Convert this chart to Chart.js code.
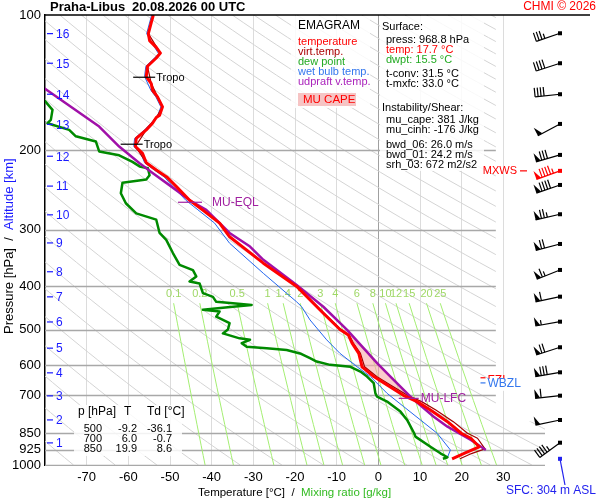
<!DOCTYPE html>
<html>
<head>
<meta charset="utf-8">
<title>Emagram Praha-Libus</title>
<script src="https://cdn.jsdelivr.net/npm/chart.js@4.4.1/dist/chart.umd.min.js"></script>
<style>
  html, body { margin: 0; padding: 0; background: #fff; }
  #wrap { width: 600px; height: 500px; }
</style>
</head>
<body>
<div id="wrap"><canvas id="emagram" width="600" height="500"></canvas></div>
<script>
// ── Axes ───────────────────────────────────────────
const pressureTicks = [100, 200, 300, 400, 500, 600, 700, 850, 925, 1000];
const tempTicks = [-70, -60, -50, -40, -30, -20, -10, 0, 10, 20, 30];
const mixRatios = [0.1, 0.2, 0.5, 1, 1.4, 2, 3, 4, 6, 8, 10, 12, 15, 20, 25];
const altKm = [1, 2, 3, 4, 5, 6, 7, 8, 9, 10, 11, 12, 13, 14, 15, 16];
const altP = [893, 794, 702, 624, 550, 481, 423, 372, 321, 278, 240, 206, 175, 150, 128, 110];

// ── Sounding profiles (p in hPa, T in °C) ──────────
const tempP = [100, 104, 110, 114, 118, 121.5, 124.6, 130, 137, 142, 147, 152, 160, 167, 169, 174, 180, 188, 196, 203,
  213, 221, 229, 241, 258, 271, 290, 311, 356, 401, 460, 500, 514, 536, 565, 605, 636, 664, 700, 723, 755, 801, 850,
  872, 911, 942, 968.8];
const tempT = [-54.0, -54.5, -55.2, -54.9, -53.3, -52.3, -53.3, -55.4, -55.7, -54.5, -54.2, -53.0, -51.8, -52.5, -53.3,
  -54.2, -55.7, -58.1, -58.3, -56.6, -55.7, -53.3, -50.8, -48.4, -45.3, -42.2, -38.1, -35.7, -27.6, -19.6, -13.2, -9.2,
  -7.2, -6.3, -4.7, -3.9, -1.1, 2.1, 6.0, 9.3, 12.5, 16.6, 19.9, 22.2, 24.2, 20.6, 17.7];

const virtP = [100, 110, 121.5, 130, 142, 160, 169, 180, 196, 213, 229, 258, 290, 311, 356, 401, 460, 500, 514, 536,
  565, 605, 636, 664, 700, 723, 755, 801, 850, 872, 921, 942, 968.8];
const virtT = [-54.0, -55.2, -52.3, -55.4, -54.5, -51.8, -53.3, -55.7, -58.3, -55.7, -50.8, -45.3, -38.1, -35.7, -27.5,
  -19.5, -13.0, -9.0, -7.0, -6.0, -4.3, -3.3, -0.4, 2.9, 7.0, 10.4, 13.8, 18.0, 21.4, 23.8, 25.6, 22.5, 19.6];

const dewP = [154.5, 162.5, 171, 174, 180, 186, 191, 201, 205, 212, 217, 219, 227, 232, 236, 249, 262, 276, 285, 305,
  316, 338, 359, 369, 381, 391, 395, 415, 423, 434, 437, 441, 445, 452, 456, 468, 484, 500, 510, 523, 527, 536, 546,
  550, 555, 565, 579, 589, 599, 605, 620, 636, 658, 693, 705, 723, 761, 794, 850, 865, 911, 942, 961, 968.8];
const dewT = [-80.2, -78.2, -78.6, -79.4, -74.2, -72.6, -67.8, -67.0, -62.2, -59.0, -57.3, -55.3, -54.9, -55.7, -61.4,
  -61.8, -60.6, -58.1, -53.3, -52.5, -50.9, -49.3, -47.7, -44.5, -43.7, -45.3, -42.9, -42.1, -39.7, -38.9, -34.9,
  -30.4, -34.9, -42.1, -38.1, -38.9, -35.7, -36.1, -37.3, -33.3, -30.8, -32.8, -31.6, -26.8, -22.0, -18.8, -16.4,
  -14.8, -11.6, -6.7, -4.3, -2.7, -1.1, -0.7, -0.3, 2.1, 5.3, 6.9, 8.6, 8.9, 12.5, 14.9, 16.6, 15.5];

const wbP = [100, 110, 118, 122, 130, 137, 147, 152, 160, 167, 174, 180, 188, 196, 203, 213, 221, 229, 241, 258, 271,
  290, 321.5, 375, 434, 445, 476, 527, 565, 605, 636, 693, 742, 794, 850, 926, 961, 968.8];
const wbT = [-54.4, -55.6, -53.7, -52.7, -55.8, -56.1, -54.6, -53.4, -52.2, -52.9, -54.6, -56.1, -58.5, -58.7, -57.0,
  -56.1, -53.8, -51.4, -49.2, -46.2, -43.3, -39.3, -35.7, -27.6, -19.6, -18.4, -16.4, -12.4, -9.2, -5.1, -1.9, 2.1,
  6.1, 10.1, 14.1, 17.3, 16.6, 16.3];

const parcelP = [144.7, 157, 177, 196, 213.5, 224.7, 245, 258, 271, 305, 327, 350, 398, 445, 501, 594, 636, 705, 781,
  822, 880, 926];
const parcelT = [-80.5, -75.0, -67.0, -62.2, -57.3, -54.1, -48.5, -45.3, -41.3, -35.7, -30.8, -27.6, -19.6, -13.2,
  -7.5, -0.3, 2.9, 7.7, 13.3, 16.6, 22.2, 25.8];

// ── Levels / markers ───────────────────────────────
const tropoP = [137.5, 193.7];
const tropoT = [-56.2, -59.2];
const eqlP = 260.7, eqlT = -45.2;
const lfcP = 711, lfcT = 7.3;
const capeTopP = 500;
const fzlP = 640, wbzlP = 657;
const mxwsP = 222;
const sfcP = 968.8;

// ── Wind (p hPa, direction deg, speed kt) ──────────
const windP = [109.8, 128, 150, 174.6, 204.6, 222, 238.6, 277.2, 322.7, 368.6, 422.6, 480.3, 547.5, 622.4, 701.4,
  794.3, 892.2];
const windDir = [251, 252, 264, 242, 254, 250, 251, 257, 255, 248, 258, 260, 252, 260, 264, 258, 234];
const windSpd = [35, 40, 40, 50, 80, 95, 90, 75, 70, 65, 60, 55, 70, 80, 60, 50, 45];

// ── Tables ─────────────────────────────────────────
const tableP = [500, 700, 850];
const tableT = [-9.2, 6.0, 19.9];
const tableTd = [-36.1, -0.7, 8.6];
const surfaceLines = ['press: 968.8 hPa', 'temp: 17.7 °C', 'dwpt: 15.5 °C'];
const convLines = ['t-conv: 31.5 °C', 't-mxfc: 33.0 °C'];
const instLines = ['mu_cape: 381 J/kg', 'mu_cinh: -176 J/kg'];
const shearLines = ['bwd_06: 26.0 m/s', 'bwd_01: 24.2 m/s', 'srh_03: 672 m2/s2'];

// ── Styling ────────────────────────────────────────
const FONT = '"Liberation Sans", Arial, sans-serif';
const clipT = 28.2, clipP = 800;   // upper-right panel is kept clear of grid

const pts = (P, T) => P.map((p, i) => ({ x: T[i], y: p }));

// saturation dew point for mixing ratio w (g/kg) at p
function mixTd(w, p) {
  const e = w * p / (622 + w);
  const l = Math.log(e / 6.112);
  return 243.5 * l / (17.67 - l);
}

// CAPE shape: parcel from capeTopP to LFC, back along environment
const capePts = []
  .concat(pts(parcelP, parcelT).filter(d => d.y >= capeTopP && d.y < lfcP))
  .concat([{ x: lfcT, y: lfcP }])
  .concat(pts(tempP, tempT).filter(d => d.y >= capeTopP && d.y < lfcP).reverse());

function line(ctx, x1, y1, x2, y2) {
  ctx.beginPath(); ctx.moveTo(x1, y1); ctx.lineTo(x2, y2); ctx.stroke();
}

function drawBarb(ctx, x0, y0, dir, spd, color) {
  const rad = dir * Math.PI / 180;
  const vx = Math.sin(rad), vy = -Math.cos(rad);
  const L = 25, F = 9;
  const ex = x0 + vx * L, ey = y0 + vy * L;
  const fx = -vy, fy = vx;
  ctx.strokeStyle = color; ctx.fillStyle = color; ctx.lineWidth = 1.2;
  line(ctx, x0, y0, ex, ey);
  ctx.fillRect(x0 - 2, y0 - 2, 4, 4);
  let s = Math.round(spd / 5) * 5, pos = 0;
  while (s >= 50) {
    const ax = ex - vx * pos, ay = ey - vy * pos;
    ctx.beginPath();
    ctx.moveTo(ax, ay);
    ctx.lineTo(ax - vx * 5, ay - vy * 5);
    ctx.lineTo(ax + fx * F, ay + fy * F);
    ctx.closePath(); ctx.fill();
    pos += 6; s -= 50;
  }
  while (s >= 10) {
    const bx = ex - vx * pos, by = ey - vy * pos;
    line(ctx, bx, by, bx + fx * F, by + fy * F);
    pos += 3; s -= 10;
  }
  if (s >= 5) {
    const bx = ex - vx * pos, by = ey - vy * pos;
    line(ctx, bx, by, bx + fx * F * 0.55, by + fy * F * 0.55);
  }
}

// ── Background grid: pressure lines, dry adiabats, mixing ratio ──
const emagramGrid = {
  id: 'emagramGrid',
  beforeDatasetsDraw(chart) {
    const { ctx, chartArea: a, scales: { x, y } } = chart;
    const xc = x.getPixelForValue(clipT), yc = y.getPixelForValue(clipP);
    ctx.save();
    ctx.beginPath();
    ctx.moveTo(a.left, a.top); ctx.lineTo(xc, a.top); ctx.lineTo(xc, yc);
    ctx.lineTo(a.right, yc); ctx.lineTo(a.right, a.bottom + 1); ctx.lineTo(a.left, a.bottom + 1);
    ctx.closePath(); ctx.clip();

    ctx.strokeStyle = '#d4d4d4'; ctx.lineWidth = 1;
    for (let th = 200; th <= 600; th += 10) {
      ctx.beginPath();
      for (let i = 0; i <= 60; i++) {
        const p = 100 * Math.pow(10, i / 60);
        const px = x.getPixelForValue(th * Math.pow(p / 1000, 0.286) - 273.15);
        const py = y.getPixelForValue(p);
        i ? ctx.lineTo(px, py) : ctx.moveTo(px, py);
      }
      ctx.stroke();
    }

    ctx.strokeStyle = '#a8a8a8'; ctx.lineWidth = 1.5;
    pressureTicks.forEach(p => {
      if (p === 100) return;
      const py = Math.round(y.getPixelForValue(p)) + 0.5;
      line(ctx, a.left, py, a.right, py);
    });
    ctx.restore();

    ctx.save();
    ctx.beginPath(); ctx.rect(a.left, a.top, a.right - a.left, a.bottom - a.top); ctx.clip();
    ctx.strokeStyle = '#a4ee72'; ctx.lineWidth = 1;
    mixRatios.forEach(w => {
      ctx.beginPath();
      for (let i = 0; i <= 12; i++) {
        const p = 437 + (1000 - 437) * i / 12;
        const px = x.getPixelForValue(mixTd(w, p)), py = y.getPixelForValue(p);
        i ? ctx.lineTo(px, py) : ctx.moveTo(px, py);
      }
      ctx.stroke();
    });
    ctx.fillStyle = '#9fd866';
    ctx.font = '11px ' + FONT; ctx.textAlign = 'center'; ctx.textBaseline = 'middle';
    mixRatios.forEach(w => {
      ctx.fillText(String(w), x.getPixelForValue(mixTd(w, 437)), y.getPixelForValue(417));
    });
    ctx.restore();
  },

  afterDatasetsDraw(chart) {
    const { ctx, scales: { x, y } } = chart;
    ctx.save();
    ctx.fillStyle = 'rgba(255,255,255,0.85)';
    ctx.fillRect(291, 16, 79, 92);      // legend
    ctx.fillRect(380, 16, 104, 155);    // surface / instability
    ctx.fillRect(74, 405, 108, 51);     // level table

    // markers
    ctx.lineWidth = 1.2; ctx.strokeStyle = '#000'; ctx.fillStyle = '#000';
    ctx.font = '11px ' + FONT; ctx.textBaseline = 'middle'; ctx.textAlign = 'left';
    tropoP.forEach((p, i) => {
      const px = x.getPixelForValue(tropoT[i]), py = y.getPixelForValue(p);
      line(ctx, px - 11, py, px + 11, py);
      ctx.fillText('Tropo', px + 12, py + 1);
    });
    ctx.strokeStyle = '#a020a0'; ctx.fillStyle = '#a020a0'; ctx.font = '12px ' + FONT;
    let px = x.getPixelForValue(eqlT), py = y.getPixelForValue(eqlP);
    line(ctx, px - 12, py, px + 12, py);
    ctx.fillText('MU-EQL', px + 22, py);
    px = x.getPixelForValue(lfcT); py = y.getPixelForValue(lfcP);
    line(ctx, px - 10, py, px + 10, py);
    ctx.fillText('MU-LFC', px + 12, py);

    // freezing / wet-bulb zero levels
    const lx = x.getPixelForValue(25);
    ctx.strokeStyle = '#ff0000'; ctx.fillStyle = '#ff0000';
    const yf = y.getPixelForValue(fzlP), yw = y.getPixelForValue(wbzlP);
    line(ctx, lx - 2, yf, lx + 3, yf);
    ctx.fillText('FZL', lx + 5, yf + 3);
    ctx.fillStyle = '#fff'; ctx.fillRect(lx + 4, yf + 1, 38, 12);
    ctx.strokeStyle = '#3377ee'; ctx.fillStyle = '#3377ee';
    line(ctx, lx - 2, yw, lx + 3, yw);
    ctx.fillText('WBZL', lx + 5, yw + 1);
    ctx.restore();
  },

  afterDraw(chart) {
    const { ctx, chartArea: a, scales: { x, y } } = chart;
    ctx.save();
    ctx.strokeStyle = '#000'; ctx.lineWidth = 1.5;
    line(ctx, a.left, a.top, 590, a.top);

    ctx.textBaseline = 'middle'; ctx.textAlign = 'left';
    ctx.fillStyle = '#000'; ctx.font = 'bold 13px ' + FONT;
    ctx.fillText('Praha-Libus', 50, 7);
    ctx.fillText('20.08.2026 00 UTC', 132, 7);
    ctx.fillStyle = '#ff0000'; ctx.font = '12px ' + FONT; ctx.textAlign = 'right';
    ctx.fillText('CHMI © 2026', 596, 7);

    // altitude scale
    ctx.textAlign = 'left'; ctx.font = '12px ' + FONT;
    ctx.strokeStyle = '#1a1aff'; ctx.fillStyle = '#1a1aff'; ctx.lineWidth = 1.2;
    altKm.forEach((k, i) => {
      const py = y.getPixelForValue(altP[i]);
      line(ctx, a.left + 2, py, a.left + 8, py);
      ctx.fillText(String(k), a.left + 11, py + 1);
    });

    // axis titles
    ctx.save();
    ctx.translate(9, 334); ctx.rotate(-Math.PI / 2);
    ctx.font = '13px ' + FONT; ctx.fillStyle = '#000';
    const t1 = 'Pressure [hPa]  /  ';
    ctx.fillText(t1, 0, 0);
    ctx.fillStyle = '#1a1aff';
    ctx.fillText('Altitude [km]', ctx.measureText(t1).width, 0);
    ctx.restore();
    ctx.font = '11.5px ' + FONT; ctx.fillStyle = '#000';
    const t2 = 'Temperature [°C]  /  ';
    ctx.fillText(t2, 198, 493);
    ctx.fillStyle = '#33bb22';
    ctx.fillText('Mixing ratio [g/kg]', 198 + ctx.measureText(t2).width, 493);

    // legend
    ctx.fillStyle = '#000'; ctx.font = '12px ' + FONT;
    ctx.fillText('EMAGRAM', 298, 26);
    ctx.font = '11px ' + FONT;
    [['temperature', '#ff0000'], ['virt.temp.', '#aa0000'], ['dew point', '#22aa22'],
     ['wet bulb temp.', '#3377ee'], ['udpraft v.temp.', '#aa22bb']].forEach(([t, c], i) => {
      ctx.fillStyle = c; ctx.fillText(t, 298, 42 + i * 10);
    });
    ctx.fillStyle = '#f6c4c4'; ctx.fillRect(298, 93, 58, 13);
    ctx.fillStyle = '#ff0000'; ctx.font = '11.5px ' + FONT;
    ctx.fillText('MU CAPE', 303, 100);

    // surface / instability
    ctx.font = '11px ' + FONT; ctx.fillStyle = '#000';
    ctx.fillText('Surface:', 382, 27);
    surfaceLines.forEach((t, i) => {
      ctx.fillStyle = i === 1 ? '#ff0000' : i === 2 ? '#22aa22' : '#000';
      ctx.fillText(t, 386, 40 + i * 10);
    });
    ctx.fillStyle = '#000';
    convLines.forEach((t, i) => ctx.fillText(t, 386, 74 + i * 10));
    ctx.fillText('Instability/Shear:', 382, 108);
    instLines.forEach((t, i) => ctx.fillText(t, 386, 120 + i * 10));
    shearLines.forEach((t, i) => ctx.fillText(t, 386, 145 + i * 10));

    // level table
    ctx.font = '12px ' + FONT;
    ctx.fillText('p [hPa]', 78, 412);
    ctx.fillText('T', 124, 412);
    ctx.fillText('Td [°C]', 147, 412);
    ctx.font = '11px ' + FONT; ctx.textAlign = 'right';
    tableP.forEach((p, i) => {
      const ty = 428.5 + i * 10;
      ctx.fillText(String(p), 102, ty);
      ctx.fillText(tableT[i].toFixed(1), 137, ty);
      ctx.fillText(tableTd[i].toFixed(1), 172, ty);
    });

    // wind barbs
    const bx = 560;
    windP.forEach((p, i) => {
      const isMax = p === mxwsP;
      drawBarb(ctx, bx, y.getPixelForValue(p), windDir[i], windSpd[i], isMax ? '#ff0000' : '#000');
    });
    const ym = y.getPixelForValue(mxwsP);
    ctx.fillStyle = '#ff0000'; ctx.strokeStyle = '#ff0000'; ctx.lineWidth = 1.2;
    ctx.font = '11px ' + FONT; ctx.textAlign = 'right';
    ctx.fillText('MXWS', 517, ym);
    line(ctx, 520, ym, 527, ym);

    // surface marker
    const ys = y.getPixelForValue(sfcP);
    ctx.strokeStyle = '#2222ee'; ctx.fillStyle = '#2222ee';
    ctx.fillRect(bx - 2, ys - 2, 4, 4);
    line(ctx, bx, ys, 565, 485);
    ctx.textAlign = 'center'; ctx.font = '12px ' + FONT;
    ctx.fillText('SFC: 304 m ASL', 551, 491);
    ctx.restore();
  }
};

const lineDs = (label, P, T, color, width, order) => ({
  label, data: pts(P, T), borderColor: color, borderWidth: width, order,
  showLine: true, pointRadius: 0, tension: 0, fill: false, borderJoinStyle: 'round'
});

new Chart(document.getElementById('emagram'), {
  type: 'scatter',
  data: {
    datasets: [
      { label: 'MU CAPE', data: capePts, showLine: true, pointRadius: 0, borderWidth: 0,
        borderColor: 'rgba(0,0,0,0)', backgroundColor: 'rgba(248,170,170,0.6)', fill: 'shape', order: 10 },
      lineDs('wet bulb temp.', wbP, wbT, '#2266ee', 1, 6),
      lineDs('dew point', dewP, dewT, '#008a00', 2.5, 5),
      lineDs('virt.temp.', virtP, virtT, '#a00000', 1.2, 4),
      lineDs('udpraft v.temp.', parcelP, parcelT, '#a010a8', 2.5, 3),
      lineDs('temperature', tempP, tempT, '#ff0000', 3, 1)
    ]
  },
  options: {
    responsive: false,
    animation: false,
    devicePixelRatio: 1,
    layout: { padding: { top: 15, right: 55, left: 0, bottom: 0 } },
    plugins: { legend: { display: false }, tooltip: { enabled: false } },
    scales: {
      x: {
        type: 'linear', min: -80, max: 40,
        afterBuildTicks: s => { s.ticks = tempTicks.map(v => ({ value: v })); },
        afterFit: s => { s.height = 35; },
        grid: { color: c => (c.tick && c.tick.value === 0 ? '#a0a0a0' : '#dcdcdc'), lineWidth: 1, drawTicks: false },
        border: { display: false },
        ticks: { autoSkip: false, maxRotation: 0, padding: 5, color: '#000', font: { size: 13, family: FONT } }
      },
      y: {
        type: 'logarithmic', min: 100, max: 1000, reverse: true,
        afterBuildTicks: s => { s.ticks = pressureTicks.map(v => ({ value: v })); },
        afterFit: s => { s.width = 45; },
        grid: { display: false, drawTicks: false },
        border: { display: true, color: '#000', width: 1.5 },
        ticks: { autoSkip: false, padding: 4, color: '#000', font: { size: 13, family: FONT },
          callback: v => String(v) }
      }
    }
  },
  plugins: [emagramGrid]
});
</script>
</body>
</html>
